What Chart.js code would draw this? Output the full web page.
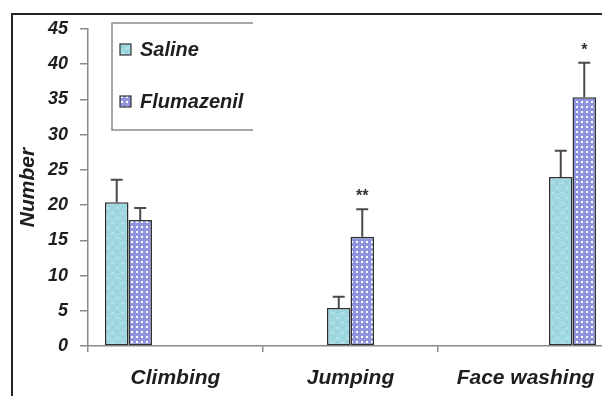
<!DOCTYPE html>
<html>
<head>
<meta charset="utf-8">
<script src="https://cdn.jsdelivr.net/npm/chart.js@4/dist/chart.umd.min.js"></script>
<style>
  html, body { margin: 0; padding: 0; background: #fff; overflow: hidden; }
  #wrap { width: 640px; height: 396px; }
</style>
</head>
<body>
<div id="wrap"><canvas id="c" width="640" height="396"></canvas></div>
<script>
// Behaviour categories and group means with their SEM (upper error bars)
const categories = ['Climbing', 'Jumping', 'Face washing'];
const seriesNames = ['Saline', 'Flumazenil'];
const saline = [20.4, 5.4, 24.0];
const salineErr = [3.2, 1.6, 3.7];
const flumazenil = [17.9, 15.5, 35.3];
const flumazenilErr = [1.7, 3.9, 4.9];
const significance = ['', '**', '*'];
const yTicks = [0, 5, 10, 15, 20, 25, 30, 35, 40, 45];

const FONT = "'Liberation Sans', Arial, sans-serif";

// Fill patterns for the two groups
function salinePattern() {
  const p = document.createElement('canvas');
  p.width = 10; p.height = 10;
  const g = p.getContext('2d');
  g.fillStyle = '#9fd8e0';
  g.fillRect(0, 0, 10, 10);
  g.fillStyle = '#b6e3e9';
  g.fillRect(1, 2, 3, 2);
  g.fillRect(6, 7, 3, 2);
  g.fillStyle = '#8fcfd8';
  g.fillRect(6, 1, 2, 2);
  g.fillRect(2, 7, 2, 1);
  return g.createPattern(p, 'repeat');
}
function flumazenilPattern() {
  const p = document.createElement('canvas');
  p.width = 5; p.height = 5;
  const g = p.getContext('2d');
  g.fillStyle = '#9093dd';
  g.fillRect(0, 0, 5, 5);
  g.fillStyle = '#ffffff';
  g.fillRect(1, 1, 2, 2);
  return g.createPattern(p, 'repeat');
}
const fills = [salinePattern(), flumazenilPattern()];

// One pair of datasets per slot so each behaviour's pair sits in its own slot
const values = [saline, flumazenil];
const errors = [salineErr, flumazenilErr];
const datasets = [];
categories.forEach((_, slot) => {
  [0, 1].forEach(s => {
    datasets.push({
      label: seriesNames[s],
      series: s,
      data: categories.map((__, i) => (i === slot ? values[s][i] : null)),
      errors: categories.map((__, i) => (i === slot ? errors[s][i] : null)),
      backgroundColor: fills[s],
      borderColor: '#2f2f2f',
      borderWidth: 1.5,
      borderSkipped: false,
      categoryPercentage: 0.806,
      barPercentage: 1.0
    });
  });
});

const errorBars = {
  id: 'errorBars',
  afterDatasetsDraw(chart) {
    const ctx = chart.ctx;
    const y = chart.scales.y;
    ctx.save();
    ctx.strokeStyle = '#4a4a4a';
    ctx.lineWidth = 2;
    chart.data.datasets.forEach((ds, di) => {
      const meta = chart.getDatasetMeta(di);
      meta.data.forEach((el, i) => {
        const v = ds.data[i];
        if (v === null || v === undefined) return;
        const top = y.getPixelForValue(v + ds.errors[i]);
        ctx.beginPath();
        ctx.moveTo(el.x, el.y);
        ctx.lineTo(el.x, top);
        ctx.moveTo(el.x - 6, top);
        ctx.lineTo(el.x + 6, top);
        ctx.stroke();
        if (ds.series === 1 && significance[i]) {
          ctx.fillStyle = '#333';
          ctx.font = 'bold 16px ' + FONT;
          ctx.textAlign = 'center';
          ctx.textBaseline = 'alphabetic';
          ctx.fillText(significance[i], el.x, top - 8);
        }
      });
    });
    ctx.restore();
  }
};

const frameAndLegend = {
  id: 'frameAndLegend',
  afterDraw(chart) {
    const ctx = chart.ctx;
    ctx.save();
    // outer frame
    ctx.strokeStyle = '#262626';
    ctx.lineWidth = 2;
    ctx.beginPath();
    ctx.moveTo(12, 396);
    ctx.lineTo(12, 14);
    ctx.lineTo(chart.width, 14);
    ctx.stroke();
    // legend box
    ctx.strokeStyle = '#8a8a8a';
    ctx.lineWidth = 1.5;
    ctx.beginPath();
    ctx.moveTo(253, 23);
    ctx.lineTo(112, 23);
    ctx.lineTo(112, 130);
    ctx.lineTo(253, 130);
    ctx.stroke();
    const rows = [49, 101];
    seriesNames.forEach((name, s) => {
      const cy = rows[s];
      ctx.fillStyle = fills[s];
      ctx.fillRect(120, cy - 5, 11, 11);
      ctx.strokeStyle = '#333';
      ctx.lineWidth = 1.2;
      ctx.strokeRect(120, cy - 5, 11, 11);
      ctx.fillStyle = '#1e1e1e';
      ctx.font = 'italic bold 20px ' + FONT;
      ctx.textAlign = 'left';
      ctx.textBaseline = 'middle';
      ctx.fillText(name, 140, cy + 1);
    });
    ctx.restore();
  }
};

new Chart(document.getElementById('c'), {
  type: 'bar',
  data: { labels: categories, datasets },
  options: {
    responsive: false,
    animation: false,
    layout: { padding: { top: 29, right: 27, bottom: 0, left: 0 } },
    plugins: { legend: { display: false }, tooltip: { enabled: false } },
    scales: {
      x: {
        grid: { display: true, drawOnChartArea: false, tickLength: 6, color: '#8a8a8a', lineWidth: 1.5 },
        border: { color: '#8a8a8a', width: 1.5 },
        ticks: {
          color: '#1e1e1e',
          padding: 14,
          font: { family: FONT, size: 21, style: 'italic', weight: 'bold' },
          maxRotation: 0
        },
        afterFit(scale) { scale.height = 50; }
      },
      y: {
        min: 0,
        max: 45,
        afterBuildTicks(scale) { scale.ticks = yTicks.map(v => ({ value: v })); },
        grid: { display: true, drawOnChartArea: false, tickLength: 8, color: '#8a8a8a', lineWidth: 1.5 },
        border: { color: '#8a8a8a', width: 1.5 },
        ticks: {
          color: '#1e1e1e',
          padding: 12,
          font: { family: FONT, size: 18, style: 'italic', weight: 'bold' }
        },
        title: {
          display: true,
          text: 'Number',
          color: '#1e1e1e',
          padding: { top: 16, bottom: 0 },
          font: { family: FONT, size: 21, style: 'italic', weight: 'bold' }
        },
        afterFit(scale) { scale.width = 88; }
      }
    }
  },
  plugins: [errorBars, frameAndLegend]
});
</script>
</body>
</html>
